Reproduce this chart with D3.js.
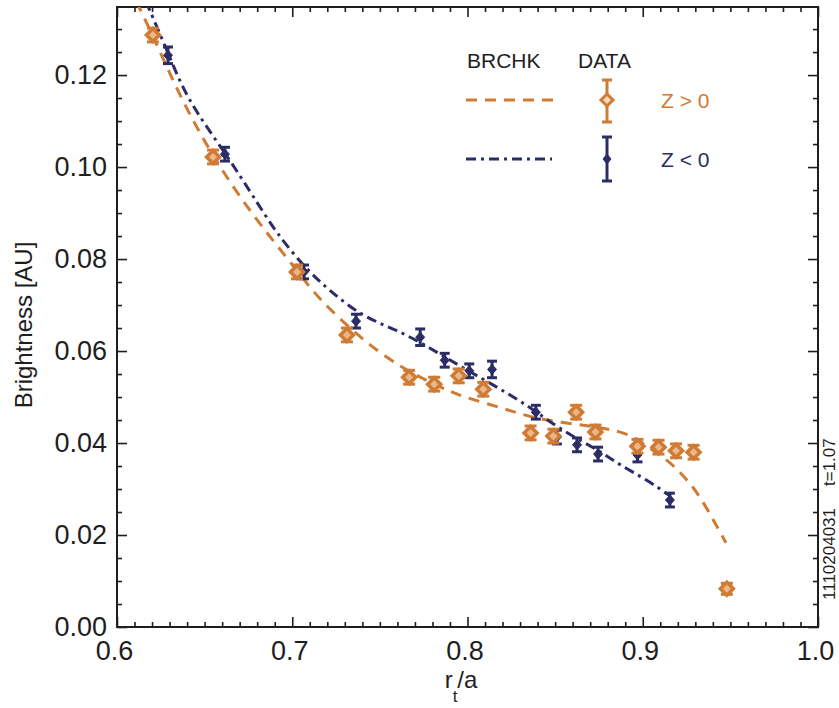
<!DOCTYPE html>
<html><head><meta charset="utf-8">
<script src="https://cdn.jsdelivr.net/npm/d3@7"></script>
<style>body{margin:0;background:#fff}svg{display:block}text{font-family:"Liberation Sans",Arial,Helvetica,sans-serif}</style>
</head><body><svg id="c" width="839" height="708"></svg>
<script>
// ---- data ----
const orangeX = [0.6205,0.6548,0.7027,0.7312,0.7667,0.781,0.795,0.809,0.836,0.849,0.862,0.873,0.897,0.909,0.919,0.929,0.948];
const orangeY = [0.1287,0.1022,0.0772,0.0635,0.0543,0.0528,0.0546,0.0517,0.0422,0.0415,0.0467,0.0424,0.0393,0.0391,0.0383,0.0380,0.0083];
const orangeErr = [0.0015,0.0015,0.0015,0.0015,0.0015,0.0015,0.0015,0.0015,0.0015,0.0015,0.0015,0.0015,0.0015,0.0015,0.0015,0.0015,0.0012];
const blueX = [0.6291,0.6616,0.7067,0.7364,0.773,0.787,0.801,0.814,0.839,0.851,0.8625,0.8745,0.897,0.9155];
const blueY = [0.1243,0.1028,0.0772,0.0665,0.0630,0.0580,0.0557,0.0560,0.0467,0.0413,0.0396,0.0376,0.0374,0.0276];
const blueErr = [0.0018,0.0015,0.0015,0.0015,0.0018,0.0015,0.0015,0.0018,0.0015,0.0015,0.0015,0.0015,0.0015,0.0015];
const fitOrangeX = [0.611,0.620,0.636,0.655,0.678,0.703,0.714,0.740,0.7615,0.784,0.7975,0.820,0.8357,0.8545,0.874,0.891,0.900,0.914,0.921,0.931,0.941,0.9475];
const fitOrangeY = [0.1360,0.1290,0.1152,0.1020,0.0891,0.0775,0.0717,0.0624,0.0565,0.0522,0.0500,0.0476,0.0456,0.0444,0.0435,0.0422,0.0400,0.0363,0.0338,0.0295,0.0228,0.0183];
const fitBlueX = [0.6165,0.629,0.640,0.662,0.6816,0.691,0.7067,0.7215,0.7404,0.7598,0.7786,0.7975,0.8168,0.8357,0.851,0.866,0.8773,0.887,0.9024,0.9156];
const fitBlueY = [0.1360,0.1250,0.1146,0.1030,0.0913,0.0857,0.0783,0.0730,0.0674,0.0646,0.0607,0.0563,0.0522,0.0478,0.0435,0.0402,0.0378,0.0352,0.0320,0.0285];
const xTicks = [0.6,0.7,0.8,0.9,1.0];
const yTicks = [0.00,0.02,0.04,0.06,0.08,0.10,0.12];
const xLabel = "r/a", xSub = "t", yLabel = "Brightness [AU]";
const legendHead = ["BRCHK","DATA"];
const legendNames = ["Z > 0","Z < 0"];
const shotText = ["1110204031","t=1.07"];

const ORANGE = "#cf7b34", NAVY = "#2c2c66", INK = "#1e1e1e";
const L=117,R=818,T=7,B=627;
const svg = d3.select("#c");
const x = d3.scaleLinear().domain([0.6,1.0]).range([L,R]);
const y = d3.scaleLinear().domain([0,0.1348]).range([B,T]);

svg.append("defs").append("clipPath").attr("id","clip").append("rect")
  .attr("x",L).attr("y",T).attr("width",R-L).attr("height",B-T);

// axes
function styleAxis(g){g.select(".domain").remove();g.selectAll("line").attr("stroke",INK).attr("stroke-width",1.6);}
const xMinor = d3.range(0.61,1.0,0.01).map(v=>+v.toFixed(2)).filter(v=>!xTicks.some(t=>Math.abs(t-v)<1e-6));
const yMinor = d3.range(0.005,0.1348,0.005).map(v=>+v.toFixed(3)).filter(v=>!yTicks.some(t=>Math.abs(t-v)<1e-6));
svg.append("g").attr("transform",`translate(0,${B})`).call(d3.axisBottom(x).tickValues(xTicks).tickSize(-10).tickFormat(d3.format(".1f")).tickPadding(14)).call(styleAxis)
  .selectAll("text").attr("font-size",27).attr("fill",INK).attr("dx",-3);
svg.append("g").attr("transform",`translate(0,${B})`).call(d3.axisBottom(x).tickValues(xMinor).tickSize(-5).tickFormat("")).call(styleAxis);
svg.append("g").attr("transform",`translate(0,${T})`).call(d3.axisTop(x).tickValues(xTicks).tickSize(-10).tickFormat("")).call(styleAxis);
svg.append("g").attr("transform",`translate(0,${T})`).call(d3.axisTop(x).tickValues(xMinor).tickSize(-5).tickFormat("")).call(styleAxis);
svg.append("g").attr("transform",`translate(${L},0)`).call(d3.axisLeft(y).tickValues(yTicks).tickSize(-10).tickFormat(d3.format(".2f")).tickPadding(10)).call(styleAxis)
  .selectAll("text").attr("font-size",27).attr("fill",INK);
svg.append("g").attr("transform",`translate(${L},0)`).call(d3.axisLeft(y).tickValues(yMinor).tickSize(-5).tickFormat("")).call(styleAxis);
svg.append("g").attr("transform",`translate(${R},0)`).call(d3.axisRight(y).tickValues(yTicks).tickSize(-10).tickFormat("")).call(styleAxis);
svg.append("g").attr("transform",`translate(${R},0)`).call(d3.axisRight(y).tickValues(yMinor).tickSize(-5).tickFormat("")).call(styleAxis);
svg.append("rect").attr("x",L).attr("y",T).attr("width",R-L).attr("height",B-T).attr("fill","none").attr("stroke",INK).attr("stroke-width",2);

// fits
const line = d3.line().x(d=>x(d[0])).y(d=>y(d[1])).curve(d3.curveBasis);
svg.append("path").datum(d3.zip(fitOrangeX,fitOrangeY)).attr("clip-path","url(#clip)")
  .attr("d",line).attr("fill","none").attr("stroke",ORANGE).attr("stroke-width",3).attr("stroke-dasharray","11,8");
svg.append("path").datum(d3.zip(fitBlueX,fitBlueY)).attr("clip-path","url(#clip)")
  .attr("d",line).attr("fill","none").attr("stroke",NAVY).attr("stroke-width",3).attr("stroke-dasharray","10,5,3,5");

// markers
function errBar(g,cx,cy,top,bot,cap,col){
  g.append("line").attr("x1",cx).attr("x2",cx).attr("y1",top).attr("y2",bot).attr("stroke",col).attr("stroke-width",3);
  [top,bot].forEach(v=>g.append("line").attr("x1",cx-cap).attr("x2",cx+cap).attr("y1",v).attr("y2",v).attr("stroke",col).attr("stroke-width",3));
}
function diamond(g,cx,cy,w,h,col,fill,sw){
  g.append("path").attr("d",`M${cx},${cy-h}L${cx+w},${cy}L${cx},${cy+h}L${cx-w},${cy}Z`)
   .attr("fill",fill).attr("stroke",col).attr("stroke-width",sw);
}
const gB = svg.append("g");
blueX.forEach((vx,i)=>{const cx=x(vx),cy=y(blueY[i]);
  errBar(gB,cx,cy,y(blueY[i]+blueErr[i]),y(blueY[i]-blueErr[i]),5,NAVY);
  diamond(gB,cx,cy,4.5,5,NAVY,NAVY,1);});
const gO = svg.append("g");
orangeX.forEach((vx,i)=>{const cx=x(vx),cy=y(orangeY[i]);
  errBar(gO,cx,cy,y(orangeY[i]+orangeErr[i]),y(orangeY[i]-orangeErr[i]),6,ORANGE);
  diamond(gO,cx,cy,6.5,6.5,ORANGE,"#eab78a",3.5);});

// legend
svg.append("text").attr("x",467).attr("y",68).attr("font-size",21).attr("fill",INK).text(legendHead[0]);
svg.append("text").attr("x",578).attr("y",68).attr("font-size",21).attr("fill",INK).text(legendHead[1]);
svg.append("line").attr("x1",466).attr("x2",555).attr("y1",100).attr("y2",100).attr("stroke",ORANGE).attr("stroke-width",3).attr("stroke-dasharray","11,8");
svg.append("line").attr("x1",466).attr("x2",552).attr("y1",159).attr("y2",159).attr("stroke",NAVY).attr("stroke-width",3).attr("stroke-dasharray","10,5,3,5");
const gl = svg.append("g");
errBar(gl,607,100,80,122,5,ORANGE); diamond(gl,607,100,6,6,ORANGE,"#f3d9c0",3);
errBar(gl,607,159,137,181,5,NAVY); diamond(gl,607,159,4,5,NAVY,NAVY,1);
svg.append("text").attr("x",661).attr("y",108).attr("font-size",21).attr("fill",ORANGE).text(legendNames[0]);
svg.append("text").attr("x",661).attr("y",167).attr("font-size",21).attr("fill",NAVY).text(legendNames[1]);

// axis titles
const xl = svg.append("text").attr("x",461).attr("y",688).attr("text-anchor","middle").attr("font-size",24).attr("fill",INK);
xl.append("tspan").text("r");
xl.append("tspan").attr("dy",14).attr("font-size",17).text(xSub);
xl.append("tspan").attr("dy",-14).text("/a");
svg.append("text").attr("transform","translate(32,325) rotate(-90)").attr("text-anchor","middle").attr("font-size",24).attr("fill",INK).text(yLabel);

// shot annotation
svg.append("text").attr("transform","translate(835,600) rotate(-90)").attr("font-size",17).attr("fill",INK).text(shotText[0]);
svg.append("text").attr("transform","translate(835,486) rotate(-90)").attr("font-size",17).attr("fill",INK).text(shotText[1]);
</script></body></html>
